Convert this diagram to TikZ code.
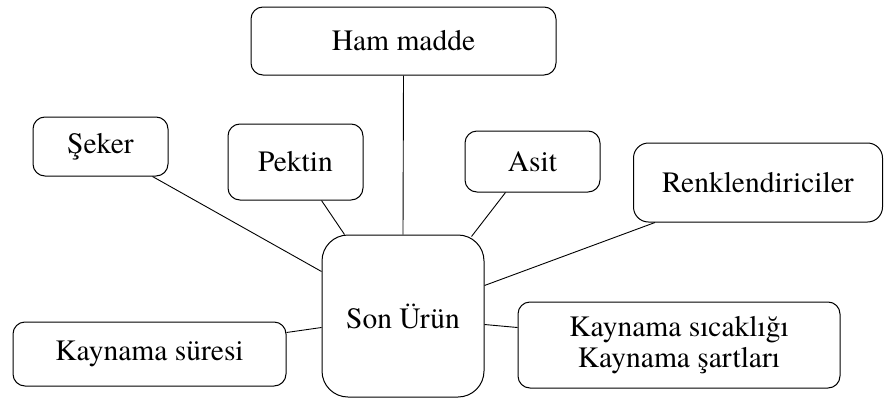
\documentclass[tikz,border=0pt]{standalone}
\usepackage{fontspec}
\setmainfont{texgyretermes-regular.otf}
\usetikzlibrary{calc}
\begin{document}
\begin{tikzpicture}[x=1pt,y=-1pt,
  box/.style={draw, line width=1pt, rounded corners=12pt, inner sep=0pt, align=center,
    font=\rmfamily\fontsize{29.5}{31}\selectfont},
  link/.style={draw, line width=0.9pt}]
\useasboundingbox (0,0) rectangle (884,399);
\node[box, minimum width=305pt, minimum height=68pt] (ham) at (403.5,41) {Ham madde};
\node[box, minimum width=135pt, minimum height=59pt] (seker) at (100.5,146.5) {Şeker};
\node[box, minimum width=135pt, minimum height=76pt] (pektin) at (295.5,162) {Pektin};
\node[box, minimum width=135pt, minimum height=61pt] (asit) at (532.5,161.5) {Asit};
\node[box, minimum width=249pt, minimum height=79pt, rounded corners=15pt] (renk) at (758,182.5) {Renklendiriciler};
\node[box, minimum width=162pt, minimum height=162pt, rounded corners=26pt] (son) at (403,316) {Son Ürün};
\node[box, minimum width=273pt, minimum height=64pt] (sure) at (149.5,354) {Kaynama süresi};
\node[box, minimum width=322pt, minimum height=86pt] (sicak) at (679,345) {Kaynama sıcaklığı\\Kaynama şartları};
\draw[link] (ham.south) -- (son.north);
\draw[link] ($(seker.south west)+(120,0)$) -- ($(son.north west)+(0,37)$);
\draw[link] ($(pektin.south west)+(94,0)$) -- ($(son.north west)+(23,0)$);
\draw[link] ($(asit.south west)+(41,0)$) -- ($(son.north east)+(-13,2)$);
\draw[link] ($(renk.south west)+(22,0)$) -- ($(son.north east)+(0,51)$);
\draw[link] ($(sure.north east)+(0,11)$) -- ($(son.north west)+(0,93)$);
\draw[link] ($(sicak.north west)+(0,26)$) -- ($(son.north east)+(0,90)$);
\end{tikzpicture}
\end{document}
